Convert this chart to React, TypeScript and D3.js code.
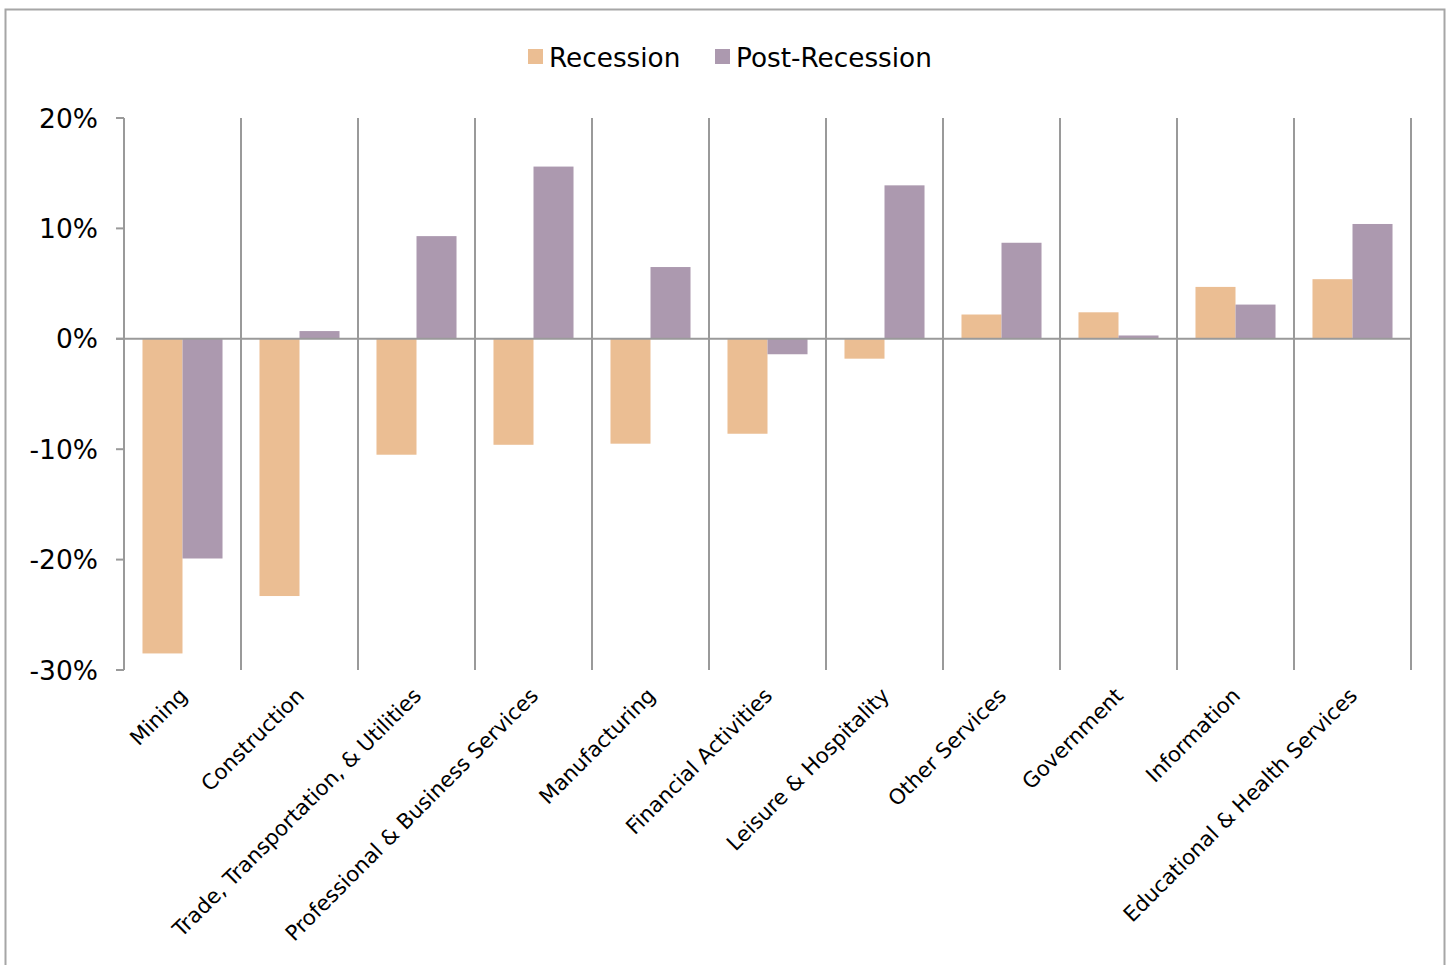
import React from "react";
import * as d3 from "d3";

const categories = [
  "Mining",
  "Construction",
  "Trade, Transportation, & Utilities",
  "Professional & Business Services",
  "Manufacturing",
  "Financial Activities",
  "Leisure & Hospitality",
  "Other Services",
  "Government",
  "Information",
  "Educational & Health Services",
];
const recession = [-28.5, -23.3, -10.5, -9.6, -9.5, -8.6, -1.8, 2.2, 2.4, 4.7, 5.4];
const postRecession = [-19.9, 0.7, 9.3, 15.6, 6.5, -1.4, 13.9, 8.7, 0.3, 3.1, 10.4];
const yTicks = [20, 10, 0, -10, -20, -30];
const seriesNames = ["Recession", "Post-Recession"];
const colors = ["#EBBE93", "#AC99AF"];

const W = 1451;
const H = 965;
const left = 124;
const right = 1411;
const top = 118;
const bottom = 670;
const font = "'DejaVu Sans', Verdana, sans-serif";
const gridColor = "#9a9a9a";

export default function App() {
  const x = d3.scaleBand<string>().domain(categories).range([left, right]).paddingInner(0).paddingOuter(0);
  const y = d3.scaleLinear().domain([-30, 20]).range([bottom, top]);
  const bw = x.bandwidth();
  const barW = bw * 0.342;
  const offset = (bw - 2 * barW) / 2;
  const boundaries = categories.map((c) => x(c)!).concat([right]);

  return (
    <svg width={W} height={H} style={{ position: "absolute", left: 0, top: 0, background: "#fff" }}>
      <rect x={5.5} y={9.5} width={1439} height={980} fill="#fff" stroke="#a6a6a6" strokeWidth={2} />
      {boundaries.map((bx, i) => (
        <line key={"g" + i} x1={bx} x2={bx} y1={top} y2={bottom} stroke={gridColor} strokeWidth={2} />
      ))}
      {yTicks.map((t) => (
        <line key={"t" + t} x1={left - 8} x2={left} y1={y(t)} y2={y(t)} stroke={gridColor} strokeWidth={2} />
      ))}
      {categories.map((c, i) => {
        const x0 = x(c)! + offset;
        const vals = [recession[i], postRecession[i]];
        return vals.map((v, j) => (
          <rect
            key={c + j}
            x={x0 + j * barW}
            y={Math.min(y(v), y(0))}
            width={barW}
            height={Math.abs(y(v) - y(0))}
            fill={colors[j]}
          />
        ));
      })}
      <line x1={left - 8} x2={right} y1={y(0)} y2={y(0)} stroke={gridColor} strokeWidth={2} />
      {yTicks.map((t) => (
        <text
          key={"l" + t}
          x={98}
          y={y(t)}
          dy="0.36em"
          textAnchor="end"
          fontFamily={font}
          fontSize={26.5}
          fill="#000"
        >
          {t + "%"}
        </text>
      ))}
      {categories.map((c) => {
        const cx = x(c)! + bw / 2 + 6;
        const cy = bottom + 27;
        return (
          <text
            key={"c" + c}
            transform={`translate(${cx},${cy}) rotate(-45)`}
            textAnchor="end"
            fontFamily={font}
            fontSize={21.2}
            fill="#000"
          >
            {c}
          </text>
        );
      })}
      {seriesNames.map((s, i) => {
        const lx = i === 0 ? 528 : 715;
        return (
          <g key={s}>
            <rect x={lx} y={49} width={15} height={15} fill={colors[i]} />
            <text x={lx + 21} y={67} fontFamily={font} fontSize={26.3} fill="#000">
              {s}
            </text>
          </g>
        );
      })}
    </svg>
  );
}
